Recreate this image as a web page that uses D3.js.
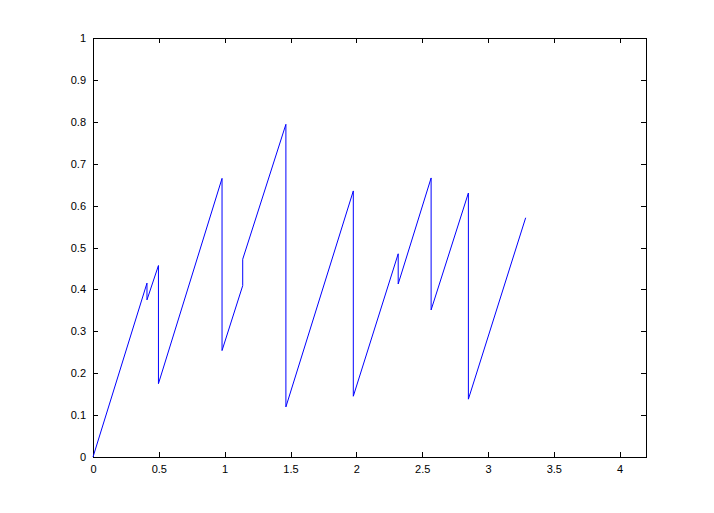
<!DOCTYPE html>
<html>
<head>
<meta charset="utf-8">
<script src="https://cdn.jsdelivr.net/npm/d3@7"></script>
<style>
html,body{margin:0;padding:0;background:#fff;}
svg{display:block;}
.ax text{font-family:"Liberation Sans",Arial,sans-serif;font-size:11px;fill:#000;}
.ax path,.ax line{stroke:#000;stroke-width:1;shape-rendering:crispEdges;}
</style>
</head>
<body>
<svg id="c" width="714" height="513"></svg>
<script>
const xValues = [0, 0.41, 0.41, 0.497, 0.497, 0.98, 0.98, 1.137, 1.137, 1.465, 1.465, 1.977, 1.977, 2.318, 2.318, 2.568, 2.568, 2.851, 2.851, 3.286];
const yValues = [0, 0.415, 0.375, 0.457, 0.175, 0.665, 0.254, 0.409, 0.472, 0.794, 0.1195, 0.635, 0.145, 0.485, 0.413, 0.666, 0.351, 0.630, 0.138, 0.571];
const xTicks = [0, 0.5, 1, 1.5, 2, 2.5, 3, 3.5, 4];
const xTickLabels = ["0", "0.5", "1", "1.5", "2", "2.5", "3", "3.5", "4"];
const yTicks = [0, 0.1, 0.2, 0.3, 0.4, 0.5, 0.6, 0.7, 0.8, 0.9, 1];
const yTickLabels = ["0", "0.1", "0.2", "0.3", "0.4", "0.5", "0.6", "0.7", "0.8", "0.9", "1"];

const svg = d3.select("#c");
const L = 93, R = 646, T = 38, B = 457;
const x = d3.scaleLinear().domain([0, 4.2]).range([L, R]);
const y = d3.scaleLinear().domain([0, 1]).range([B, T]);

svg.append("rect").attr("x", 0).attr("y", 0).attr("width", 714).attr("height", 513).attr("fill", "#fff");

// bottom axis
svg.append("g").attr("class", "ax").attr("transform", `translate(0,${B})`)
  .call(d3.axisBottom(x).tickValues(xTicks).tickFormat((d, i) => xTickLabels[i]).tickSizeInner(-5).tickSizeOuter(0).tickPadding(8));
// top axis
svg.append("g").attr("class", "ax").attr("transform", `translate(0,${T})`)
  .call(d3.axisTop(x).tickValues(xTicks).tickFormat("").tickSizeInner(-5).tickSizeOuter(0));
// left axis
svg.append("g").attr("class", "ax").attr("transform", `translate(${L},0)`)
  .call(d3.axisLeft(y).tickValues(yTicks).tickFormat((d, i) => yTickLabels[i]).tickSizeInner(-5).tickSizeOuter(0).tickPadding(7));
// right axis
svg.append("g").attr("class", "ax").attr("transform", `translate(${R},0)`)
  .call(d3.axisRight(y).tickValues(yTicks).tickFormat("").tickSizeInner(-5).tickSizeOuter(0));

svg.selectAll(".ax .domain").remove();
svg.append("rect").attr("x", L).attr("y", T).attr("width", R - L).attr("height", B - T)
  .attr("fill", "none").attr("stroke", "#000").attr("stroke-width", 1).attr("shape-rendering", "crispEdges");

const pts = xValues.map((v, i) => [v, yValues[i]]);
svg.append("path").datum(pts)
  .attr("d", d3.line().x(d => x(d[0])).y(d => y(d[1])))
  .attr("fill", "none").attr("stroke", "#0000ff").attr("stroke-width", 1);
</script>
</body>
</html>
